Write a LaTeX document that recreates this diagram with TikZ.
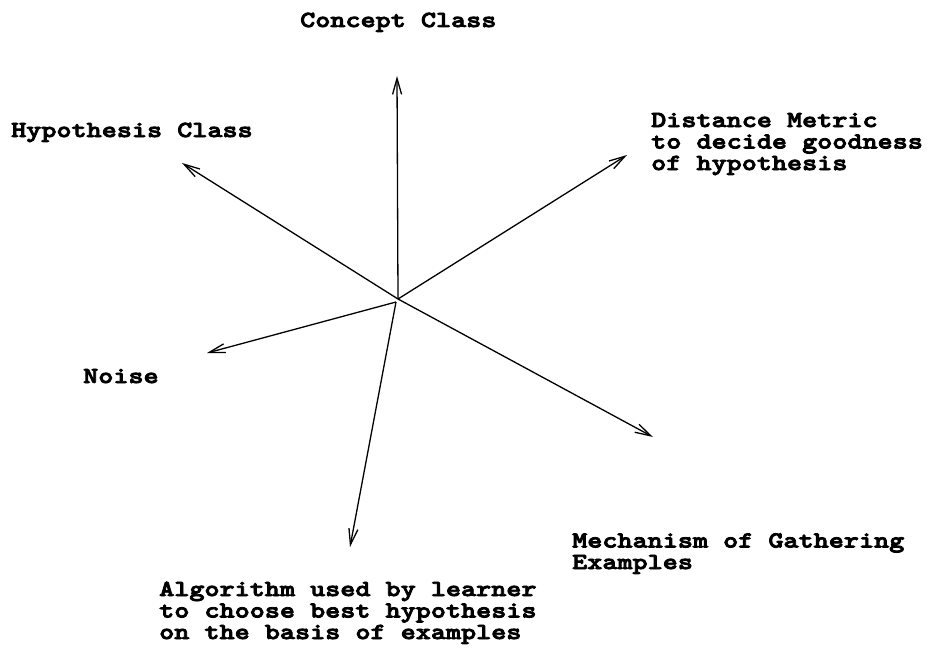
\documentclass[tikz,border=0pt]{standalone}
\usepackage{fontspec}
\usetikzlibrary{arrows.meta}
\newfontfamily\tw{lmmonolt10-bold.otf}[FakeStretch=1.25,FakeBold=3.5]
\begin{document}
\begin{tikzpicture}[x=1pt,y=-1pt,
  lbl/.style={font=\tw\fontsize{23}{21.5}\selectfont, inner sep=0pt, align=left, anchor=base west},
  ray/.style={line width=1.3pt, -{Straight Barb[length=16pt,width=9pt,line width=1.3pt]}}]
\useasboundingbox (0,0) rectangle (928,650);
% texts (anchor = baseline of the last line)
\node[lbl] (concept) at (300,27) {Concept Class};
\node[lbl] (hypo) at (11,137) {Hypothesis Class};
\node[lbl] (dist) at (651,170) {Distance Metric\\to decide goodness\\of hypothesis};
\node[lbl] (noise) at (83,383) {Noise};
\node[lbl] (mech) at (572,569) {Mechanism of Gathering\\Examples};
\node[lbl] (algo) at (159,639) {Algorithm used by learner\\to choose best hypothesis\\on the basis of examples};
% rays
\coordinate (o) at (398,299);
\coordinate (o2) at (396,302);
\coordinate (tc) at (397,76);
\coordinate (th) at (182,163);
\coordinate (td) at (627,155);
\coordinate (tn) at (207,353);
\coordinate (ta) at (350,547);
\coordinate (tm) at (653,437);
\draw[ray] (o) -- (tc);
\draw[ray] (o) -- (th);
\draw[ray] (o) -- (td);
\draw[ray] (o2) -- (tn);
\draw[ray] (o2) -- (ta);
\draw[ray] (o) -- (tm);
\end{tikzpicture}
\end{document}
